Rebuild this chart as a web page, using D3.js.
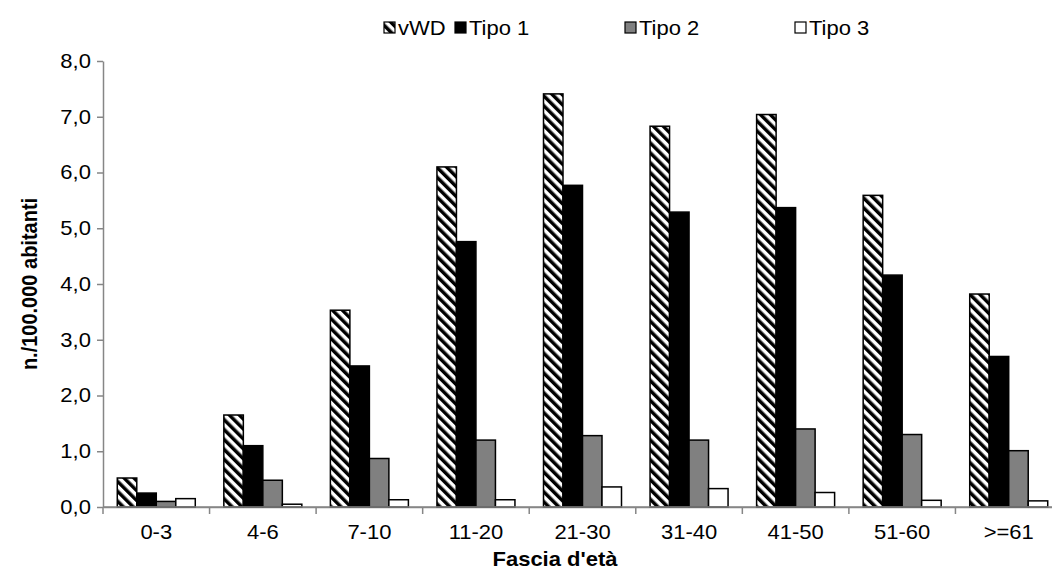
<!DOCTYPE html>
<html><head><meta charset="utf-8">
<script src="https://cdn.jsdelivr.net/npm/d3@7"></script>
<style>body{margin:0;background:#fff}svg{display:block;font-family:"Liberation Sans",Arial,sans-serif}</style>
</head><body><svg id="c" width="1052" height="572"></svg>
<script>
const categories = ["0-3","4-6","7-10","11-20","21-30","31-40","41-50","51-60",">=61"];
const seriesNames = ["vWD","Tipo 1","Tipo 2","Tipo 3"];
const vWD   = [0.52,1.65,3.53,6.10,7.41,6.83,7.04,5.59,3.82];
const tipo1 = [0.25,1.10,2.53,4.76,5.77,5.29,5.37,4.16,2.70];
const tipo2 = [0.10,0.48,0.87,1.20,1.28,1.20,1.40,1.30,1.01];
const tipo3 = [0.15,0.05,0.13,0.13,0.36,0.33,0.26,0.12,0.11];
const yTicks = [0,1,2,3,4,5,6,7,8];
const yLabels = ["0,0","1,0","2,0","3,0","4,0","5,0","6,0","7,0","8,0"];

const series = [vWD, tipo1, tipo2, tipo3];
const fills = ["url(#hatch)","#000000","#808080","#ffffff"];
const FS = 20, SX = 1.1;

const svg = d3.select("#c");
const defs = svg.append("defs");
const pat = defs.append("pattern").attr("id","hatch").attr("patternUnits","userSpaceOnUse")
  .attr("width",7).attr("height",7).attr("patternTransform","rotate(-45)");
pat.append("rect").attr("width",7).attr("height",7).attr("fill","#fff");
pat.append("rect").attr("width",3.5).attr("height",7).attr("fill","#000");

const pL = 103, pR = 1062, pT = 61, pB = 507;
const x = d3.scaleBand().domain(categories).range([pL,pR]).paddingInner(0.268).paddingOuter(0.134);
const xs = d3.scaleBand().domain(seriesNames).range([0,x.bandwidth()]);
const y = d3.scaleLinear().domain([0,8]).range([pB,pT]);

// axes
const yAxis = svg.append("g").attr("transform",`translate(${pL},0)`)
  .call(d3.axisLeft(y).tickValues(yTicks).tickFormat((d,i)=>yLabels[i]).tickSize(6).tickSizeOuter(0));
yAxis.select(".domain").attr("stroke","#868686").attr("stroke-width",1.5);
yAxis.selectAll(".tick line").attr("stroke","#868686").attr("stroke-width",1.5);
yAxis.selectAll("text").attr("font-size",FS).attr("fill","#000").attr("x",-11)
  .attr("transform",`scale(${SX},1)`)
  .attr("font-family","Liberation Sans, Arial, sans-serif");

const xAxis = svg.append("g").attr("transform",`translate(0,${pB})`)
  .call(d3.axisBottom(x).tickSize(0).tickSizeOuter(0));
xAxis.select(".domain").attr("stroke","#868686").attr("stroke-width",1.5);
xAxis.selectAll(".tick text").attr("font-size",FS).attr("fill","#000").attr("y",18).attr("dy","0.71em")
  .attr("transform",`scale(${SX},1)`)
  .attr("font-family","Liberation Sans, Arial, sans-serif");
// category boundary ticks
const bounds = d3.range(categories.length+1).map(i => pL + i*(pR-pL)/categories.length);
svg.append("g").selectAll("line").data(bounds).join("line")
  .attr("x1",d=>d).attr("x2",d=>d).attr("y1",pB).attr("y2",pB+7)
  .attr("stroke","#868686").attr("stroke-width",1.5);

// bars
const g = svg.append("g");
series.forEach((vals,si)=>{
  g.append("g").selectAll("rect").data(vals).join("rect")
    .attr("x",(d,i)=>x(categories[i])+xs(seriesNames[si]))
    .attr("y",d=>y(d))
    .attr("width",xs.bandwidth())
    .attr("height",d=>pB-y(d))
    .attr("fill",fills[si]).attr("stroke","#000").attr("stroke-width",1.5);
});
svg.append("line").attr("x1",pL).attr("x2",pR).attr("y1",pB).attr("y2",pB)
  .attr("stroke","#868686").attr("stroke-width",1.5);

// titles
svg.append("g").attr("transform",`translate(555,566) scale(${SX},1)`)
  .append("text").attr("text-anchor","middle")
  .attr("font-size",FS).attr("font-weight","bold").text("Fascia d'età");
svg.append("g").attr("transform",`translate(37,${(pT+pB)/2}) rotate(-90) scale(1,${SX})`)
  .append("text").attr("text-anchor","middle")
  .attr("font-size",FS).attr("font-weight","bold").text("n./100.000 abitanti");

// legend
const legX = [384, 455, 625, 795];
const leg = svg.append("g");
seriesNames.forEach((n,i)=>{
  leg.append("rect").attr("x",legX[i]).attr("y",22).attr("width",11).attr("height",11)
    .attr("fill",fills[i]).attr("stroke","#000").attr("stroke-width",1.2);
  leg.append("g").attr("transform",`translate(${legX[i]+14},35) scale(${SX},1)`)
    .append("text").attr("font-size",FS).text(n);
});
</script></body></html>
